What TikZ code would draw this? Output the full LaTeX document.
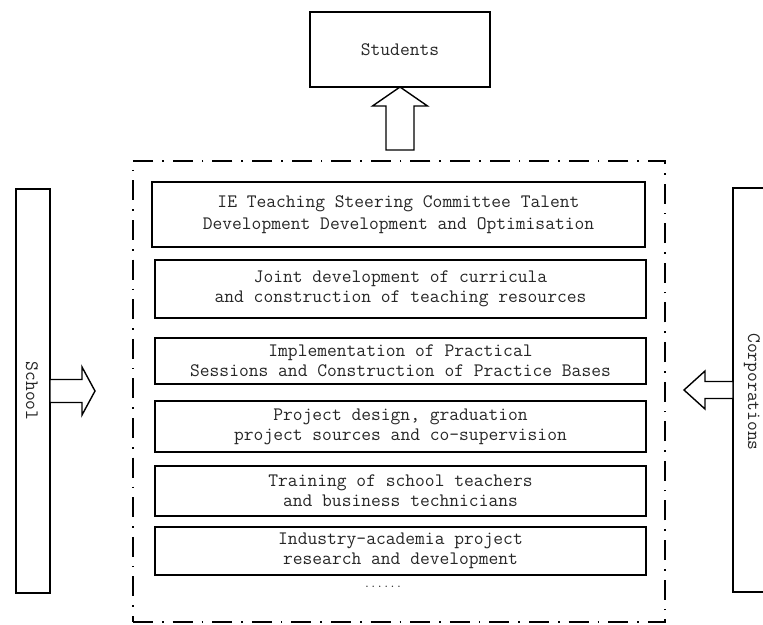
\documentclass[tikz,border=0pt]{standalone}
\begin{document}
\begin{tikzpicture}[x=1pt,y=-1pt,
  every node/.style={inner sep=0pt, outer sep=0pt},
  txt/.style={font=\ttfamily\fontsize{19}{20}\selectfont, align=center, text=black!85},
  box/.style={draw, line width=1.5pt, txt},
  sidebox/.style={draw, line width=1.5pt},
  frame/.style={draw, line width=1.7pt, dash pattern=on 20pt off 9pt on 1.6pt off 9pt},
  blockarrow/.style={draw, line width=1.4pt, fill=white, line join=miter}]
  \clip (0,0) rectangle (763,624);
  \fill[white] (0,0) rectangle (763,624);

  % top: the students receiving the outcome
  \node[box, minimum width=180pt, minimum height=75pt] (students) at (400,49.5) {Students};

  % dash-dotted frame around the cooperation activities
  \node[frame, minimum width=532pt, minimum height=461pt] (frame) at (399,391.5) {};

  % activity boxes
  \node[box, minimum width=493pt, minimum height=65pt] (b1) at (398.5,214.5)
    {IE Teaching Steering Committee Talent\\[2pt]Development Development and Optimisation};
  \node[box, minimum width=491pt, minimum height=58pt] (b2) at (400.5,289)
    {Joint development of curricula\\and construction of teaching resources};
  \node[box, minimum width=491pt, minimum height=46pt] (b3) at (400.5,361)
    {Implementation of Practical\\Sessions and Construction of Practice Bases};
  \node[box, minimum width=491pt, minimum height=51pt] (b4) at (400.5,426.5)
    {Project design, graduation\\project sources and co-supervision};
  \node[box, minimum width=491pt, minimum height=50pt] (b5) at (400.5,491)
    {Training of school teachers\\and business technicians};
  \node[box, minimum width=491pt, minimum height=48pt] (b6) at (400.5,551)
    {Industry-academia project\\research and development};
  \node[font=\ttfamily\fontsize{12.4}{12}\selectfont, text=black!85] (more) at (383,587) {......};

  % side parties
  \node[sidebox, minimum width=34pt, minimum height=404pt] (school) at (33,391) {};
  \node[txt, rotate=-90] (schooltxt) at (32,391) {School};
  \node[sidebox, minimum width=42pt, minimum height=404pt] (corp) at (754,390) {};
  \node[txt, rotate=-90] (corptxt) at (752,392) {Corporations};

  % block arrows
  \draw[blockarrow] (students.south) -- ++(27.5,19) -- ++(-13.5,0) -- ++(0,44)
    -- ++(-28,0) -- ++(0,-44) -- ++(-13.5,0) -- cycle;
  \draw[blockarrow] (school.east) ++(0,-11.5) -- ++(32,0) -- ++(0,-12.5)
    -- ++(13,24) -- ++(-13,24) -- ++(0,-12.5) -- ++(-32,0) -- cycle;
  \draw[blockarrow] (corp.west) ++(0,-8.5) -- ++(-28,0) -- ++(0,-10.5)
    -- ++(-21,19) -- ++(21,19) -- ++(0,-10.5) -- ++(28,0) -- cycle;
\end{tikzpicture}
\end{document}
